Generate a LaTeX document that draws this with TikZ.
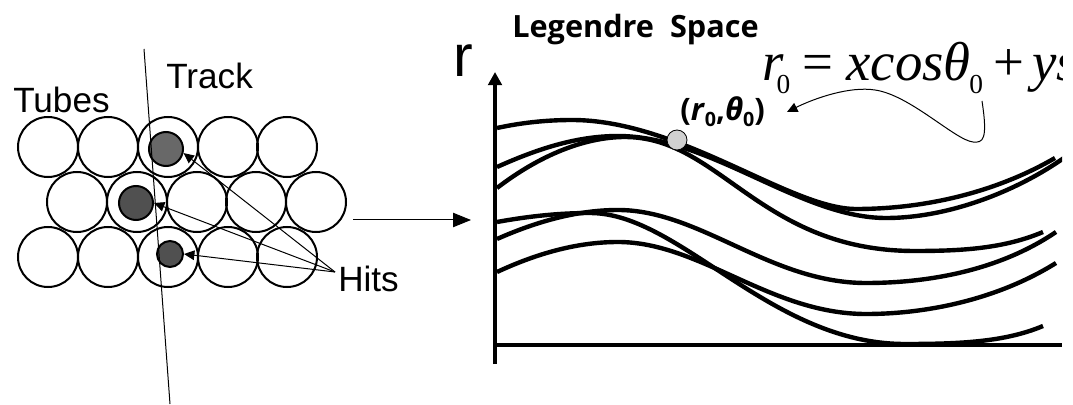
\documentclass[tikz,border=0pt]{standalone}
\usepackage{fontspec}
\setmainfont{Liberation Sans}
\newfontfamily\formfont{Liberation Serif}
\newfontfamily\handfont{Open Sans}
\usetikzlibrary{arrows.meta,positioning,calc}
\definecolor{hitdark}{RGB}{80,80,80}
\definecolor{hitlight}{RGB}{104,104,104}
\definecolor{dotgray}{RGB}{208,208,208}
\newcommand{\formsub}[1]{\raisebox{-9.2pt}{\fontsize{19.5}{20}\selectfont\upshape #1}}
\newcommand{\handsub}[1]{\raisebox{-3.6pt}{\fontsize{14}{14}\selectfont\upshape #1}}

\begin{document}
\begin{tikzpicture}[x=0.25mm,y=-0.25mm,
  tube/.style={draw,circle,line width=0.5mm,minimum size=15mm,inner sep=0pt},
  hit/.style={draw,circle,line width=0.5mm,minimum size=8.5mm,inner sep=0pt,fill=hitdark},
  lbl/.style={font=\fontsize{25}{25}\selectfont,anchor=base west,inner sep=0pt},
  thinline/.style={line width=0.25mm},
  pointer/.style={thinline,-{Triangle[length=2.6mm,width=2.4mm]}},
  axis/.style={line width=0.85mm},
  curve/.style={line width=1.1mm}]
\useasboundingbox (0,0) rectangle (1073,405);
\foreach \col/\xa/\xb in {1/48/77,2/108/137,3/168/197,4/228/256,5/287/316}{
  \node[tube] (ta\col) at (\xa,147) {};
  \node[tube] (tb\col) at (\xb,202) {};
  \node[tube] (tc\col) at (\xa,257) {};
}
\node[hit,fill=hitlight] (ha) at (166,149) {};
\node[hit] (hb) at (136,203) {};
\node[hit,minimum size=6.5mm] (hc) at (170,254) {};
\node[lbl] (tubes) at (13,113) {Tubes};
\node[lbl] (track) at (166,89) {Track};
\node[lbl] (hits) at (338,291) {Hits};
\coordinate (tracktop) at (144,49);
\coordinate (trackend) at (170,404);
\coordinate (hitsfrom) at (335,272);
\draw[thinline] (tracktop) -- (trackend);
\draw[pointer] (hitsfrom) -- (ha.-13);
\draw[pointer] (hitsfrom) -- (hb.east);
\draw[pointer] (hitsfrom) -- (hc.east);
\coordinate (mapfrom) at (353,220);
\coordinate (mapto) at (471,220);
\draw[thinline,-{Triangle[length=4.5mm,width=3.6mm]}] (mapfrom) -- (mapto);
\begin{scope}
\clip (0,0) rectangle (1062,405);
\coordinate (origin) at (495,345);
\coordinate (axistop) at (495,72);
\coordinate (axislow) at (495,364);
\coordinate (axisright) at (1062,345);
\draw[axis,-{Triangle[length=3.3mm,width=3.4mm]}] (axislow) -- (axistop);
\draw[axis] (origin) -- (axisright);
\draw[curve] (497,128) .. controls (520,123) and (545,120) .. (572,120)
  .. controls (680,120) and (790,209) .. (856,209)
  .. controls (930,209) and (1000,190) .. (1055,158);
\draw[curve] (497,167) .. controls (535,150) and (575,136) .. (618,136)
  .. controls (710,136) and (800,218) .. (886,218)
  .. controls (950,218) and (1020,190) .. (1068,155);
\draw[curve] (497,188) .. controls (540,155) and (585,137) .. (625,137)
  .. controls (720,137) and (760,251) .. (915,251)
  .. controls (965,251) and (1005,248) .. (1043,232);
\draw[curve] (497,222) .. controls (530,216) and (560,213) .. (590,213)
  .. controls (680,213) and (770,344) .. (905,344)
  .. controls (960,344) and (1005,342) .. (1043,326);
\draw[curve] (497,239) .. controls (540,220) and (580,210) .. (618,210)
  .. controls (700,210) and (770,283) .. (866,283)
  .. controls (930,283) and (1000,270) .. (1056,232);
\draw[curve] (497,272) .. controls (540,252) and (580,242) .. (618,242)
  .. controls (700,242) and (770,314) .. (866,314)
  .. controls (930,314) and (1000,298) .. (1056,263);
\node[lbl,font=\formfont\fontsize{39}{39}\selectfont\itshape] (formula) at (762,81) {r\kern-5pt\formsub{0}\kern9pt{\upshape =}\kern9pt xcosθ\kern-1pt\formsub{0}\kern7pt{\upshape +}\kern6pt ys};
\end{scope}
\node[draw,circle,fill=dotgray,line width=0.2mm,minimum size=5mm,inner sep=0pt] (dot) at (677,140) {};
\node[lbl,font=\fontsize{42}{42}\selectfont] (raxis) at (453,77) {r};
\node[lbl,font=\handfont\bfseries\fontsize{21.8}{22}\selectfont] (legendre) at (512,38) {Legendre\ \ Space};
\node[lbl,font=\handfont\bfseries\fontsize{22}{22}\selectfont] (point) at (680,121) {(\textit{r}\handsub{0},\textit{θ}\handsub{0})};
\coordinate (notefrom) at (982,101);
\coordinate (noteto) at (787,112);
\draw[pointer] (notefrom) .. controls (988,140) and (983,143) .. (973,142)
  .. controls (955,140) and (910,95) .. (875,90)
  .. controls (850,86) and (815,98) .. (noteto);
\end{tikzpicture}
\end{document}
